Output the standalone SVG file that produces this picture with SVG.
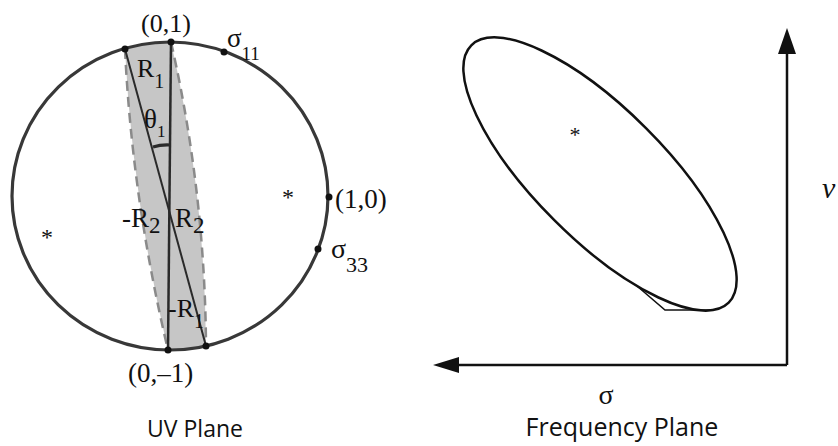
<svg xmlns="http://www.w3.org/2000/svg" width="838" height="446" viewBox="0 0 838 446">
<style>
.serif{font-family:"Liberation Serif","Times New Roman",serif;fill:#111}
.sans{font-family:"Open Sans","Liberation Sans",sans-serif;fill:#111}
.dot{fill:#111}
.ln{stroke:#2a2a2a;fill:none}
.dash{fill:none;stroke:#8a8a8a;stroke-width:2.5;stroke-dasharray:10 6}
</style>
<rect width="838" height="446" fill="#fff"/>
<g id="uv-plane">
<path d="M125,49 A158,154 0 0 1 171,42 Q205,192 206,346 A158,154 0 0 1 168,350 Q132,198 125,49 Z" fill="#c6c6c6"/>
<path d="M125,49 Q132,198 168,350" class="dash"/>
<path d="M171,42 Q205,192 206,346" class="dash"/>
<ellipse cx="170" cy="196" rx="158" ry="154" fill="none" stroke="#383838" stroke-width="3.2"/>
<line x1="171" y1="42" x2="168" y2="350" class="ln" stroke-width="2.5"/>
<line x1="125" y1="49" x2="206" y2="346" class="ln" stroke-width="2"/>
<path d="M153,147 Q161,144.5 170,145" class="ln" stroke-width="3.2"/>
<circle cx="171" cy="42" r="3.5" class="dot"/>
<circle cx="125" cy="49" r="3.5" class="dot"/>
<circle cx="168" cy="350" r="3.5" class="dot"/>
<circle cx="206" cy="346" r="3.5" class="dot"/>
<circle cx="224" cy="52" r="3.5" class="dot"/>
<circle cx="329" cy="197" r="3.5" class="dot"/>
<circle cx="318" cy="249" r="3.5" class="dot"/>
<text x="141" y="32" class="serif" font-size="26">(0,1)</text>
<text x="227" y="47" class="serif" font-size="27">σ<tspan font-size="19" dy="13">11</tspan></text>
<text x="137" y="77" class="serif" font-size="26">R<tspan font-size="20" dy="11">1</tspan></text>
<text x="144" y="128" class="serif" font-size="27">θ<tspan font-size="17" dy="9">1</tspan></text>
<text x="122" y="227" class="serif" font-size="27">-R<tspan font-size="23" dy="6">2</tspan></text>
<text x="175" y="227" class="serif" font-size="27">R<tspan font-size="23" dy="6">2</tspan></text>
<text x="335" y="208" class="serif" font-size="27">(1,0)</text>
<text x="331" y="258" class="serif" font-size="28">σ<tspan font-size="22" dy="14">33</tspan></text>
<text x="168" y="317" class="serif" font-size="26">-R<tspan font-size="20" dy="11">1</tspan></text>
<text x="128" y="382" class="serif" font-size="27">(0,–1)</text>
<text x="288" y="205" class="serif" font-size="24" text-anchor="middle">*</text>
<text x="47" y="245" class="serif" font-size="24" text-anchor="middle">*</text>
<text x="195" y="437" class="sans" font-size="23" text-anchor="middle">UV Plane</text>
</g>
<g id="frequency-plane">
<ellipse cx="600" cy="174" rx="182" ry="65" transform="rotate(45 600 174)" fill="none" stroke="#111" stroke-width="2.5"/>
<path d="M637,286 L665,310 L712,310" fill="none" stroke="#111" stroke-width="1.6"/>
<text x="575" y="142" class="serif" font-size="22" text-anchor="middle">*</text>
</g>
<g id="connectors">
<line x1="787" y1="365" x2="787" y2="40" stroke="#111" stroke-width="2.5"/>
<line x1="787" y1="365" x2="445" y2="365" stroke="#111" stroke-width="2.5"/>
<path d="M778,54 L787,28 L796,54 Z" fill="#111"/>
<path d="M459,357 L433,365 L459,373 Z" fill="#111"/>
</g>
<text x="606" y="404" class="serif" font-size="28" text-anchor="middle">σ</text>
<text x="622" y="436" class="sans" font-size="25" text-anchor="middle">Frequency Plane</text>
<text x="822" y="198" class="serif" font-size="30" font-style="italic">ν</text>
</svg>
